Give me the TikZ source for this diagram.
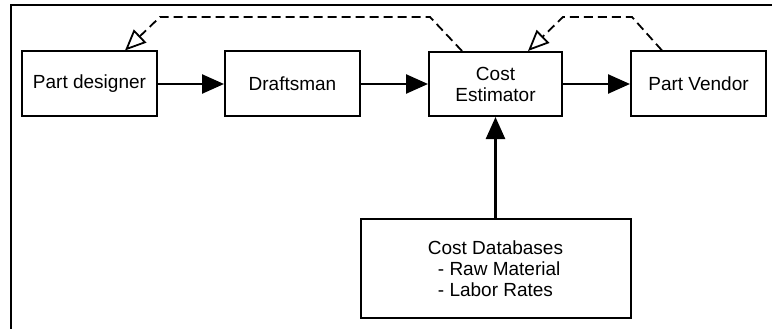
\documentclass[tikz,border=0pt]{standalone}
\usepackage{fontspec}
\setmainfont{Liberation Sans}
\usepackage{tikz}
\usetikzlibrary{arrows.meta}
\tikzstyle{process} = [rectangle, minimum width=135pt, minimum height=65pt, text centered, draw=black, line width=2pt, font=\fontsize{19}{21}\selectfont]
\tikzstyle{arrow} = [line width=2.5pt,-{Triangle[length=22pt,width=19pt]}]
\tikzstyle{feedback} = [line width=1.8pt, dash pattern=on 9pt off 5pt, -{Triangle[open,length=21pt,width=18pt,line width=1.8pt]}]

\begin{document}
\begin{tikzpicture}[x=1pt, y=1pt, node distance=203pt]
\useasboundingbox (0,0) rectangle (772,-329);
% frame
\draw [line width=1.2pt] (11,-329) -- (11,-5) -- (772,-5);

\node (designer) [process] at (89.5,-84) {Part designer};

\node (draftsman) [process, right of=designer] {Draftsman};

\node (estimator) [process, align=center, right of=draftsman, minimum width=133pt, minimum height=64pt] {
	Cost\\
	Estimator
};

\node (vendor) [process, right of=estimator] {Part Vendor};

\node (database) [process, align=left, below of=estimator, yshift=18.5pt, minimum width=270pt, minimum height=99pt] {
	Cost Databases\\
	\hspace*{10pt}- Raw Material\\
	\hspace*{10pt}- Labor Rates
};

\draw [arrow] (designer) -- (draftsman);
\draw [arrow] (draftsman) -- (estimator);
\draw [arrow] (estimator) -- (vendor);
\draw [arrow] (database) -- (estimator);

\draw [feedback] ([xshift=-33.5pt]estimator.north) -- (430,-17) -- (160,-17) -- ([xshift=35.5pt]designer.north);
\draw [feedback] ([xshift=-36.5pt]vendor.north) -- (632,-17) -- (563,-17) -- ([xshift=32.5pt]estimator.north);

\end{tikzpicture}
\end{document}
